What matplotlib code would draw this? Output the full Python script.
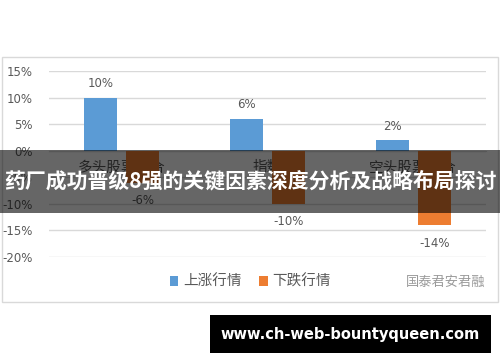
import matplotlib
matplotlib.use("Agg")
from matplotlib import pyplot as plt
from matplotlib.patches import Rectangle

plt.rcParams['font.family'] = ['Noto Sans CJK SC', 'DejaVu Sans']

categories = ['多头股票组合', '指数', '空头股票组合']
up_values = [10, 6, 2]
down_values = [-6, -10, -14]
series_names = ['上涨行情', '下跌行情']
y_ticks = [-20, -15, -10, -5, 0, 5, 10, 15]

blue = '#5B9BD5'
orange = '#ED7D31'
grey_text = '#595959'

fig = plt.figure(figsize=(5, 3.62), dpi=100)
fig.patch.set_facecolor('white')

# chart frame
fig.patches.append(Rectangle((0.003, 0.166), 0.993, 0.677, transform=fig.transFigure,
                             fill=False, edgecolor='#D9D9D9', linewidth=1, zorder=0))

ax = fig.add_axes([0.098, 0.290, 0.874, 0.514])
ax.set_zorder(1)

x = range(len(categories))
w = 0.227
off = 0.145
bx = [i - off for i in x]
ox = [i + off for i in x]
b1 = ax.bar(bx, up_values, width=w, color=blue, zorder=3, label=series_names[0])
b2 = ax.bar(ox, down_values, width=w, color=orange, zorder=3, label=series_names[1])

for xi, v in zip(bx, up_values):
    ax.annotate(f'{v}%', (xi, v), xytext=(0, 10), textcoords='offset points',
                ha='center', va='center', fontsize=8.5, color=grey_text, family='DejaVu Sans')
for xi, v in zip(ox, down_values):
    ax.annotate(f'{v}%', (xi, v), xytext=(0, -13), textcoords='offset points',
                ha='center', va='center', fontsize=8.5, color=grey_text, family='DejaVu Sans')

ax.set_ylim(-20, 15)
ax.set_xlim(-0.5, 2.5)
ax.set_yticks(y_ticks)
ax.set_yticklabels([f'{t}%' for t in y_ticks], family='DejaVu Sans')
ax.grid(axis='y', color='#D9D9D9', linewidth=1, zorder=0)
for s in ['top', 'right', 'left']:
    ax.spines[s].set_visible(False)
ax.spines['bottom'].set_position(('data', 0))
ax.spines['bottom'].set_color('#D9D9D9')
ax.set_xticks(list(x))
ax.set_xticklabels(categories, fontsize=10.5, color=grey_text)
ax.tick_params(axis='x', length=0, pad=7)
ax.tick_params(axis='y', length=0, labelsize=8.5, labelcolor=grey_text, pad=12)

fig.legend(handles=[b1, b2], loc='center', bbox_to_anchor=(0.5, 0.221), ncol=2,
           frameon=False, fontsize=10.5, labelcolor=grey_text, handlelength=0.6,
           handleheight=0.6, handletextpad=0.3, columnspacing=1.2)

fig.text(0.97, 0.221, '国泰君安君融', ha='right', va='center', fontsize=9.5, color='#9A9A9A')

# overlay banner
fig.patches.append(Rectangle((0.0, 0.4116), 1.0, 0.174, transform=fig.transFigure,
                             facecolor='black', alpha=0.6, edgecolor='none', zorder=5))
fig.text(0.5, 0.5, '药厂成功晋级8强的关键因素深度分析及战略布局探讨', ha='center', va='center',
         fontsize=15, fontweight='bold', color='white', zorder=6)

# bottom url box
fig.patches.append(Rectangle((0.42, 0.025), 0.562, 0.105, transform=fig.transFigure,
                             facecolor='black', edgecolor='none', zorder=5))
fig.text(0.701, 0.077, 'www.ch-web-bountyqueen.com', ha='center', va='center',
         fontsize=10.5, fontweight='bold', color='white', family='DejaVu Sans', zorder=6)

fig.savefig('out.png', dpi=100)
